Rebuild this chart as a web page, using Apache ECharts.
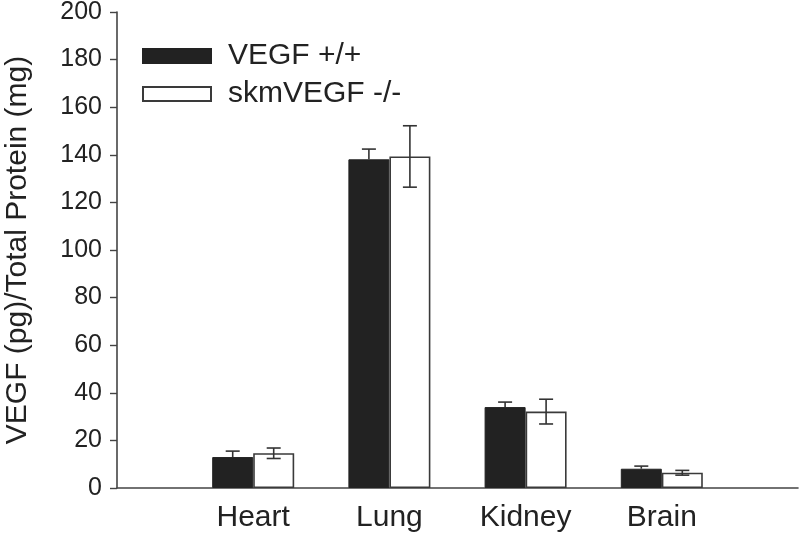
<!DOCTYPE html>
<html>
<head>
<meta charset="utf-8">
<script src="https://cdn.jsdelivr.net/npm/echarts@6/dist/echarts.min.js"></script>
<style>html,body{margin:0;padding:0;background:#fff}#c{width:800px;height:536px}</style>
</head>
<body>
<div id="c"></div>
<script>
var categories = ['Heart', 'Lung', 'Kidney', 'Brain'];
var seriesNames = ['VEGF +/+', 'skmVEGF -/-'];
var wildType = [13.0, 138.1, 34.0, 8.1];
var wildTypeErr = [2.5, 4.3, 2.1, 1.1];
var knockout = [14.6, 139.3, 32.1, 6.4];
var knockoutErr = [2.2, 12.9, 5.2, 1.0];
var yTicks = [0, 20, 40, 60, 80, 100, 120, 140, 160, 180, 200];

var axisCats = [''].concat(categories).concat(['']);
function pad(arr) { return ['-'].concat(arr).concat(['-']); }

var FONT = 'Liberation Sans, Arial, sans-serif';
var BAR_W = 41;
var LINE = '#333';

function errData(vals, errs) {
  return vals.map(function (v, i) { return [i + 1, v, v - errs[i], v + errs[i]]; });
}

function errRender(offset, upperOnly) {
  return function (params, api) {
    var x = api.value(0), m = api.value(1), lo = api.value(2), hi = api.value(3);
    var pm = api.coord([x, m]);
    var ph = api.coord([x, hi]);
    var pl = api.coord([x, lo]);
    var cx = pm[0] + offset;
    var cap = 7;
    var style = { stroke: LINE, lineWidth: 1.6 };
    var children = [
      { type: 'line', shape: { x1: cx, y1: upperOnly ? pm[1] : pl[1], x2: cx, y2: ph[1] }, style: style },
      { type: 'line', shape: { x1: cx - cap, y1: ph[1], x2: cx + cap, y2: ph[1] }, style: style }
    ];
    if (!upperOnly) {
      children.push({ type: 'line', shape: { x1: cx - cap, y1: pl[1], x2: cx + cap, y2: pl[1] }, style: style });
    }
    return { type: 'group', children: children };
  };
}

var chart = echarts.init(document.getElementById('c'), null, { renderer: 'canvas' });
chart.setOption({
  animation: false,
  backgroundColor: '#fff',
  grid: { left: 117, right: 2, top: 12, bottom: 48, containLabel: false, outerBoundsMode: 'none' },
  legend: {
    orient: 'vertical',
    left: 142,
    top: 41,
    padding: 0,
    icon: 'rect',
    itemWidth: 68,
    itemHeight: 14,
    itemGap: 8,
    data: seriesNames,
    textStyle: { fontFamily: FONT, fontSize: 30, color: '#222', lineHeight: 28, padding: [0, 0, 0, 12] }
  },
  xAxis: {
    type: 'category',
    data: axisCats,
    boundaryGap: false,
    axisLine: { lineStyle: { color: '#444', width: 1.6 } },
    axisTick: { show: false },
    axisLabel: { fontFamily: FONT, fontSize: 30, color: '#222', margin: 15, interval: 0 },
    splitLine: { show: false }
  },
  yAxis: {
    type: 'value',
    min: 0,
    max: 200,
    interval: 20,
    name: 'VEGF (pg)/Total Protein (mg)',
    nameLocation: 'middle',
    nameGap: 84,
    nameRotate: 90,
    nameTextStyle: { fontFamily: FONT, fontSize: 30, color: '#222' },
    axisLine: { show: true, lineStyle: { color: '#444', width: 1.6 } },
    axisTick: { show: true, length: 7, lineStyle: { color: '#444', width: 1.4 } },
    axisLabel: {
      fontFamily: FONT, fontSize: 25, color: '#222', margin: 15,
      formatter: function (v) { return yTicks.indexOf(v) >= 0 ? String(v) : ''; }
    },
    splitLine: { show: false }
  },
  series: [
    {
      name: seriesNames[0],
      type: 'bar',
      data: pad(wildType),
      barWidth: BAR_W,
      barGap: '0%',
      itemStyle: { color: '#222', borderColor: '#222', borderWidth: 1 },
      z: 2
    },
    {
      name: seriesNames[1],
      type: 'bar',
      data: pad(knockout),
      barWidth: BAR_W,
      barGap: '0%',
      itemStyle: { color: '#fff', borderColor: '#3a3a3a', borderWidth: 1.6 },
      z: 2
    },
    {
      type: 'custom',
      name: 'err1',
      data: errData(wildType, wildTypeErr),
      renderItem: errRender(-BAR_W / 2, true),
      z: 5,
      silent: true
    },
    {
      type: 'custom',
      name: 'err2',
      data: errData(knockout, knockoutErr),
      renderItem: errRender(BAR_W / 2, false),
      z: 5,
      silent: true
    }
  ]
});
</script>
</body>
</html>
